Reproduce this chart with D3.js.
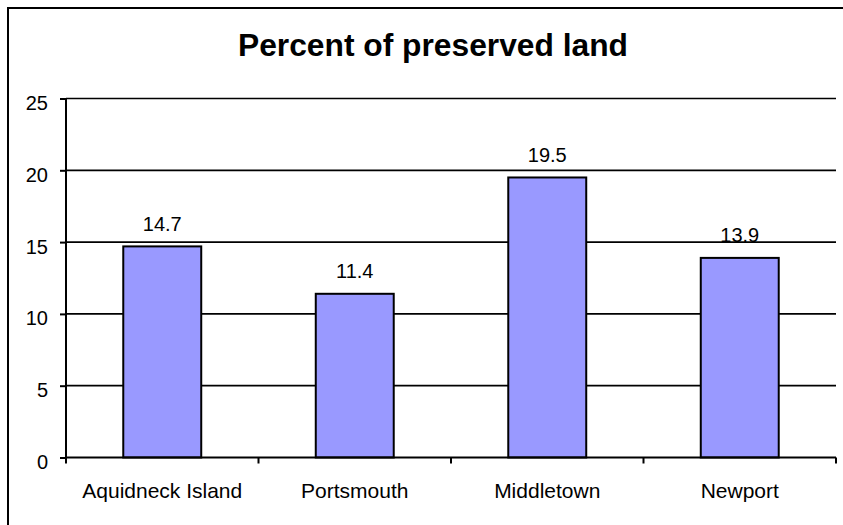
<!DOCTYPE html>
<html>
<head>
<meta charset="utf-8">
<script src="https://cdn.jsdelivr.net/npm/d3@7"></script>
<style>
  html, body { margin: 0; padding: 0; background: #fff; }
  svg { display: block; }
  text { font-family: Arial, "Liberation Sans", sans-serif; fill: #000; }
</style>
</head>
<body>
<svg id="chart" width="843" height="525"></svg>
<script>
// Data
const categories = ["Aquidneck Island", "Portsmouth", "Middletown", "Newport"];
const values = [14.7, 11.4, 19.5, 13.9];
const yTicks = [0, 5, 10, 15, 20, 25];
const title = "Percent of preserved land";

const svg = d3.select("#chart");
const W = 843, H = 525;
const plot = { left: 66, right: 836, top: 98.5, bottom: 457.5 };

// Chart frame (extends past the viewport on the right and bottom)
svg.append("rect")
  .attr("x", 8).attr("y", 8)
  .attr("width", W + 20).attr("height", H + 20)
  .attr("fill", "#fff").attr("stroke", "#000").attr("stroke-width", 2);

const x = d3.scaleBand().domain(categories).range([plot.left, plot.right]).paddingInner(0).paddingOuter(0);
const y = d3.scaleLinear().domain([0, 25]).range([plot.bottom, plot.top]);

// Title
svg.append("text")
  .attr("x", 433).attr("y", 56)
  .attr("text-anchor", "middle")
  .style("font-size", "31px").style("font-weight", "bold")
  .attr("textLength", 390).attr("lengthAdjust", "spacingAndGlyphs")
  .text(title);

// Gridlines
svg.append("g").selectAll("line")
  .data(yTicks.filter(d => d > 0))
  .join("line")
  .attr("x1", plot.left).attr("x2", plot.right)
  .attr("y1", d => y(d)).attr("y2", d => y(d))
  .attr("stroke", "#000").attr("stroke-width", 1.7);

// Bars
const barW = x.bandwidth() * 0.405;
svg.append("g").selectAll("rect")
  .data(values)
  .join("rect")
  .attr("x", (d, i) => x(categories[i]) + x.bandwidth() / 2 - barW / 2)
  .attr("y", d => y(d))
  .attr("width", barW)
  .attr("height", d => y(0) - y(d))
  .attr("fill", "#9999FF")
  .attr("stroke", "#000").attr("stroke-width", 2);

// Value labels
svg.append("g").selectAll("text")
  .data(values)
  .join("text")
  .attr("x", (d, i) => x(categories[i]) + x.bandwidth() / 2)
  .attr("y", d => y(d) - 15.5)
  .attr("text-anchor", "middle")
  .style("font-size", "20px")
  .text(d => d.toFixed(1));

// Y axis
const yAxis = d3.axisLeft(y).tickValues(yTicks).tickSize(6).tickPadding(12);
const gy = svg.append("g").attr("transform", `translate(${plot.left},0)`).call(yAxis);
gy.select(".domain").attr("stroke", "#000").attr("stroke-width", 2).attr("d", `M0,${plot.top}V${plot.bottom}`);
gy.selectAll(".tick line").attr("stroke", "#000").attr("stroke-width", 2);
gy.selectAll(".tick text")
  .style("font-size", "20px").style("font-family", "Arial, 'Liberation Sans', sans-serif")
  .attr("fill", "#000").attr("dy", "0.55em");

// X axis
const xAxis = d3.axisBottom(x).tickSize(0).tickPadding(0);
const gx = svg.append("g").attr("transform", `translate(0,${plot.bottom})`).call(xAxis);
gx.select(".domain").attr("stroke", "#000").attr("stroke-width", 2).attr("d", `M${plot.left},0H${plot.right}`);
gx.selectAll(".tick text").remove();
// Category boundary ticks
const bounds = categories.map(c => x(c)).concat([plot.right]);
gx.selectAll(".bound")
  .data(bounds)
  .join("line")
  .attr("class", "bound")
  .attr("x1", d => d).attr("x2", d => d)
  .attr("y1", 0).attr("y2", 6)
  .attr("stroke", "#000").attr("stroke-width", 2);
// Category labels
svg.append("g").selectAll("text")
  .data(categories)
  .join("text")
  .attr("x", d => x(d) + x.bandwidth() / 2)
  .attr("y", 497.5)
  .attr("text-anchor", "middle")
  .style("font-size", "21px")
  .text(d => d);
</script>
</body>
</html>
